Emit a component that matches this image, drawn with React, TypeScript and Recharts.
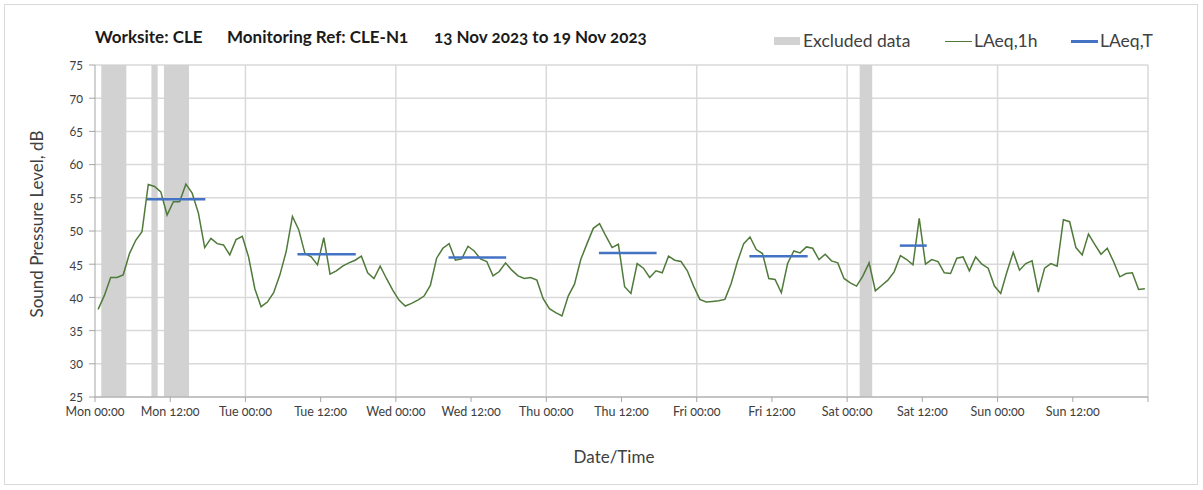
import React from 'react';
import { LineChart, Line, XAxis, YAxis, CartesianGrid, ReferenceArea, ReferenceLine, Legend } from 'recharts';

// Hourly LAeq,1h values, Mon 00:00 onward (one per hour, plotted at mid-hour)
const laeq1h: number[] = [
  38.2, 40.3, 43.0, 43.0, 43.4, 46.6, 48.6, 49.9, 57.0, 56.7, 55.9, 52.4,
  54.4, 54.4, 57.05, 55.7, 52.7, 47.5, 48.9, 48.1, 47.9, 46.4, 48.7, 49.2,
  46.1, 41.3, 38.6, 39.3, 40.7, 43.4, 46.9, 52.2, 50.2, 46.6, 46.1, 44.9,
  49.0, 43.5, 44.0, 44.7, 45.2, 45.6, 46.2, 43.7, 42.85, 44.7, 42.85, 41.1,
  39.6, 38.7, 39.1, 39.6, 40.2, 41.8, 45.9, 47.4, 48.1, 45.6, 45.8, 47.7,
  47.0, 45.8, 45.4, 43.25, 43.9, 45.2, 44.1, 43.25, 42.85, 43.0, 42.6, 39.8,
  38.3, 37.7, 37.2, 40.2, 42.0, 45.7, 48.1, 50.4, 51.1, 49.25, 47.5, 48.0,
  41.6, 40.6, 45.1, 44.4, 43.0, 44.0, 43.7, 46.2, 45.6, 45.4, 44.0, 41.7,
  39.7, 39.3, 39.4, 39.5, 39.7, 42.1, 45.4, 48.1, 49.1, 47.2, 46.6, 42.85,
  42.7, 40.7, 45.1, 47.0, 46.7, 47.6, 47.4, 45.7, 46.5, 45.5, 45.2, 42.85,
  42.2, 41.7, 43.2, 45.2, 41.0, 41.8, 42.6, 43.85, 46.3, 45.7, 44.9, 51.9,
  45.0, 45.7, 45.4, 43.7, 43.6, 45.9, 46.1, 44.0, 46.1, 45.0, 44.4, 41.7,
  40.6, 43.85, 46.8, 44.1, 45.1, 45.5, 40.8, 44.4, 45.1, 44.7, 51.7, 51.4,
  47.5, 46.4, 49.55, 48.0, 46.5, 47.4, 45.4, 43.1, 43.6, 43.7, 41.2, 41.3,
];
const firstPointHour = 0.5;

// LAeq,T periods (hours from Mon 00:00)
const ltStart: number[] = [8.3, 32.3, 56.4, 80.4, 104.4, 128.4];
const ltEnd: number[] = [17.6, 41.6, 65.6, 89.6, 113.7, 132.7];
const ltValue: number[] = [54.8, 46.5, 46.0, 46.7, 46.2, 47.8];

// Excluded data periods (hours from Mon 00:00)
const exStart: number[] = [1, 9, 11, 122];
const exEnd: number[] = [5, 10, 15, 124];

// Axis ticks
const xTicks: number[] = [0, 12, 24, 36, 48, 60, 72, 84, 96, 108, 120, 132, 144, 156, 168];
const xTickLabels: string[] = [
  'Mon 00:00', 'Mon 12:00', 'Tue 00:00', 'Tue 12:00', 'Wed 00:00', 'Wed 12:00',
  'Thu 00:00', 'Thu 12:00', 'Fri 00:00', 'Fri 12:00', 'Sat 00:00', 'Sat 12:00',
  'Sun 00:00', 'Sun 12:00', '',
];
const dayBoundaries: number[] = [24, 48, 72, 96, 120, 144, 168];
const yTicks: number[] = [25, 30, 35, 40, 45, 50, 55, 60, 65, 70, 75];

const FONT = 'Lato, "Open Sans", sans-serif';
const GREEN = '#4f7a3a';
const BLUE = '#4472c4';
const BAND = '#d2d2d2';
const GRID = '#d9d9d9';
const AXIS = '#a6a6a6';
const TEXT = '#404040';

const hourlyData = laeq1h.map((v, i) => ({ t: firstPointHour + i, v }));

const LegendContent = () => (
  <div style={{ position: 'relative', width: 0, height: 0, overflow: 'visible', fontFamily: FONT, fontSize: 17.5, color: TEXT, whiteSpace: 'nowrap' }}>
    <span style={{ position: 'absolute', left: 0, top: 7, width: 26, height: 8, background: BAND }} />
    <span style={{ position: 'absolute', left: 29, top: 0 }}>Excluded data</span>
    <span style={{ position: 'absolute', left: 171, top: 11, width: 27, height: 0, borderTop: `1.5px solid ${GREEN}` }} />
    <span style={{ position: 'absolute', left: 200, top: 0 }}>LAeq,1h</span>
    <span style={{ position: 'absolute', left: 297, top: 10, width: 27, height: 0, borderTop: `3px solid ${BLUE}` }} />
    <span style={{ position: 'absolute', left: 326, top: 0 }}>LAeq,T</span>
  </div>
);

export default function App() {
  return (
    <div style={{ position: 'absolute', left: 0, top: 0, width: 1203, height: 490, background: '#fff', fontFamily: FONT }}>
      <div style={{ position: 'absolute', left: 4, top: 4, width: 1194, height: 481, border: `1px solid ${GRID}`, boxSizing: 'border-box' }} />
      <div style={{ position: 'absolute', left: 95, top: 26, fontSize: 17, fontWeight: 700, color: '#1a1a1a', whiteSpace: 'pre', fontVariantNumeric: 'oldstyle-nums' }}>
        <span style={{ position: 'absolute', left: 0 }}>Worksite: CLE</span>
        <span style={{ position: 'absolute', left: 132 }}>Monitoring Ref: CLE-N1</span>
        <span style={{ position: 'absolute', left: 339 }}>13 Nov 2023 to 19 Nov 2023</span>
      </div>
      <div style={{ position: 'absolute', left: 36, top: 224, transform: 'translate(-50%, -50%) rotate(-90deg)', fontSize: 17, color: TEXT, whiteSpace: 'nowrap' }}>
        Sound Pressure Level, dB
      </div>
      <div style={{ position: 'absolute', left: 614, top: 456, transform: 'translate(-50%, -50%)', fontSize: 17, color: TEXT, whiteSpace: 'nowrap' }}>
        Date/Time
      </div>
      <LineChart
        width={1203}
        height={490}
        data={hourlyData}
        margin={{ top: 65, right: 55, bottom: 63, left: 55 }}
        style={{ position: 'absolute', left: 0, top: 0 }}
      >
        <CartesianGrid vertical={false} stroke={GRID} strokeWidth={1.5} />
        {dayBoundaries.map((d) => (
          <ReferenceLine key={`d${d}`} x={d} stroke={GRID} strokeWidth={1.5} />
        ))}
        {exStart.map((s, i) => (
          <ReferenceArea key={`e${i}`} x1={s} x2={exEnd[i]} y1={25} y2={75} fill={BAND} fillOpacity={1} stroke="none" />
        ))}
        <XAxis
          dataKey="t"
          type="number"
          domain={[0, 168]}
          ticks={xTicks}
          interval={0}
          tickFormatter={(v: number) => xTickLabels[xTicks.indexOf(v)] ?? ''}
          tick={{ fill: TEXT, fontSize: 12.5, fontFamily: FONT, style: { fontVariantNumeric: 'oldstyle-nums' } }}
          stroke={AXIS}
          tickSize={5}
          tickMargin={5}
          height={30}
          allowDataOverflow
        />
        <YAxis
          type="number"
          domain={[25, 75]}
          ticks={yTicks}
          interval={0}
          tick={{ fill: TEXT, fontSize: 12.5, fontFamily: FONT, style: { fontVariantNumeric: 'oldstyle-nums' } }}
          stroke={AXIS}
          tickSize={6}
          tickMargin={6}
          width={40}
          allowDataOverflow
        />
        <Line
          dataKey="v"
          type="linear"
          stroke={GREEN}
          strokeWidth={1.5}
          dot={false}
          activeDot={false}
          isAnimationActive={false}
          name="LAeq,1h"
        />
        {ltStart.map((s, i) => (
          <Line
            key={`lt${i}`}
            data={[{ t: s, v: ltValue[i] }, { t: ltEnd[i], v: ltValue[i] }]}
            dataKey="v"
            type="linear"
            stroke={BLUE}
            strokeWidth={2.5}
            dot={false}
            activeDot={false}
            isAnimationActive={false}
            legendType="none"
          />
        ))}
        <Legend content={<LegendContent />} wrapperStyle={{ position: 'absolute', left: 774, top: 30, width: 0, height: 0 }} />
      </LineChart>
    </div>
  );
}
